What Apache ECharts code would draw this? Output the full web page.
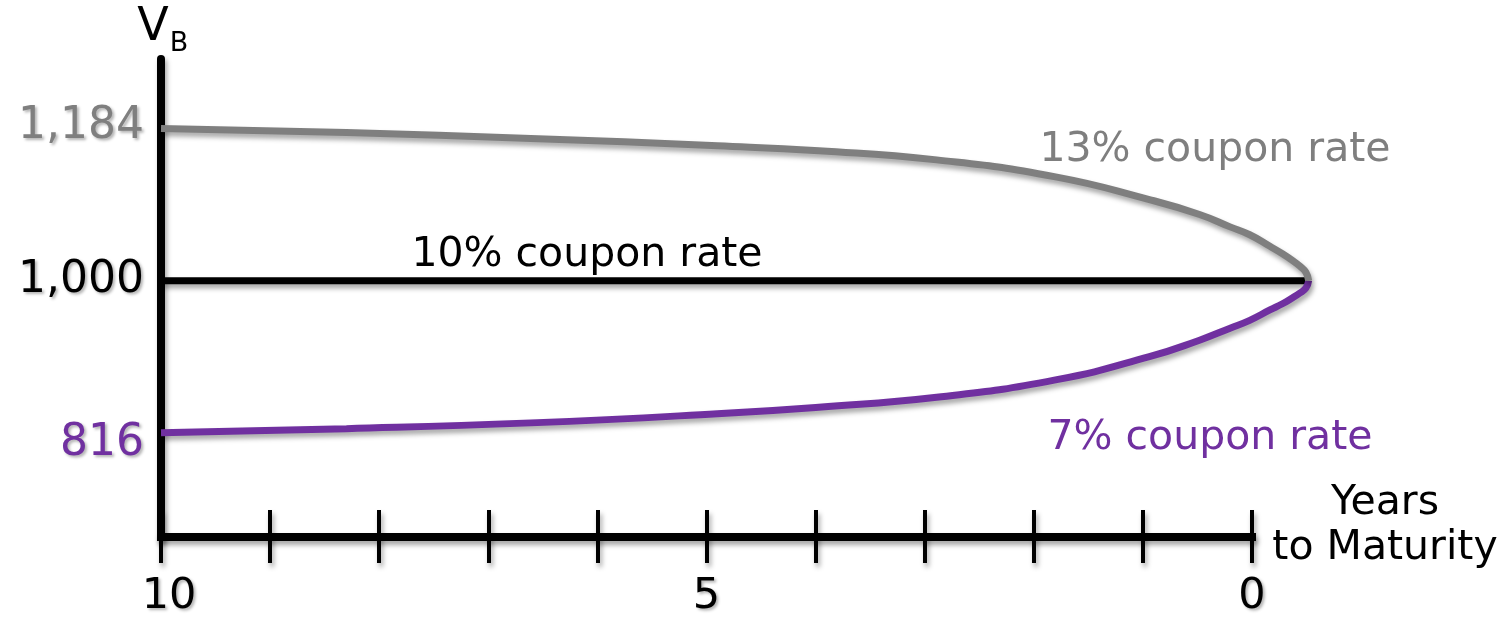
<!DOCTYPE html>
<html>
<head>
<meta charset="utf-8">
<script src="https://cdn.jsdelivr.net/npm/echarts@6/dist/echarts.min.js"></script>
<style>html,body{margin:0;padding:0;background:#fff}#c{width:1504px;height:618px}</style>
</head>
<body>
<div id="c"></div>
<script>
// ---- data ----
const years     = [10, 8.3, 6.61, 4.9, 3.97, 2.89, 1.8, 0.94, 0.48, 0.20, 0.02, -0.165, -0.28, -0.37, -0.44, -0.495, -0.52];
const coupon13  = [1184, 1179, 1172, 1163, 1157, 1146, 1125.5, 1098, 1080, 1065, 1055.5, 1041.5, 1032.5, 1024.5, 1017.5, 1010, 1000];
const coupon7   = [816, 821, 828, 839, 847, 859, 880, 908, 928, 942.5, 952, 964.5, 972, 979, 985, 991, 1000];
const coupon10Years = [10, -0.5];
const coupon10  = [1000, 1000];
const yTickValues = [816, 1000, 1184];
const yTickLabels = ['816', '1,000', '1,184'];
const xTickValues = [10, 5, 0];
const xTickLabels = ['10', '5', '0'];
const seriesNames = ['13% coupon rate', '10% coupon rate', '7% coupon rate'];
const yAxisTitle = ['V', 'B'];
const xAxisTitle = 'Years\nto Maturity';

// ---- styling ----
const FONT = '"DejaVu Sans", Verdana, sans-serif';
const GRAY = '#7F7F7F', PURPLE = '#7030A0', BLACK = '#000000';
const shadow = {shadowColor: 'rgba(0,0,0,0.35)', shadowBlur: 5, shadowOffsetX: 2, shadowOffsetY: 4};
const tShadow = {textShadowColor: 'rgba(0,0,0,0.3)', textShadowBlur: 3, textShadowOffsetX: 2, textShadowOffsetY: 2};
const yLabelKeys = ['p', 'k', 'g'];
const xLabelKeys = ['a', 'm', 'm'];

const chart = echarts.init(document.getElementById('c'), null, {renderer: 'canvas'});
const pairs = (xs, ys) => xs.map((x, i) => [x, ys[i]]);

chart.setOption({
  animation: false,
  backgroundColor: '#ffffff',
  grid: [
    {left: 161, right: 252, top: 59, bottom: 81},
    {left: 161, right: 143, top: 59, bottom: 81}
  ],
  xAxis: [
    {
      gridIndex: 0, type: 'value', min: 0, max: 10, interval: 1, inverse: true,
      splitLine: {show: false},
      axisLine: {show: true, onZero: false, lineStyle: Object.assign({color: BLACK, width: 8, cap: 'square'}, shadow)},
      axisTick: {show: true, length: 26, lineStyle: Object.assign({color: BLACK, width: 4}, shadow)},
      axisLabel: {
        show: true, margin: 38,
        formatter: v => { const i = xTickValues.indexOf(v); return i >= 0 ? '{' + xLabelKeys[i] + '|' + xTickLabels[i] + '}' : ''; },
        rich: {
          a: Object.assign({fontSize: 43, fontFamily: FONT, color: BLACK, padding: [0, 0, 0, 16]}, tShadow),
          m: Object.assign({fontSize: 43, fontFamily: FONT, color: BLACK}, tShadow)
        }
      }
    },
    {
      gridIndex: 0, type: 'value', min: 0, max: 10, interval: 1, inverse: true, position: 'bottom',
      splitLine: {show: false},
      axisLine: {show: false, onZero: false},
      axisTick: {show: true, inside: true, length: 27, lineStyle: Object.assign({color: BLACK, width: 4}, shadow)},
      axisLabel: {show: false}
    },
    {gridIndex: 1, type: 'value', min: -1, max: 10, inverse: true, show: false}
  ],
  yAxis: [
    {
      gridIndex: 0, type: 'value', min: 690, max: 1268, position: 'left',
      splitLine: {show: false},
      axisLine: {show: true, onZero: false, lineStyle: Object.assign({color: BLACK, width: 8}, shadow)},
      axisTick: {show: false},
      axisLabel: {
        show: true, margin: 17, customValues: yTickValues,
        formatter: v => { const i = yTickValues.indexOf(v); return i >= 0 ? '{' + yLabelKeys[i] + '|' + yTickLabels[i] + '}' : ''; },
        rich: {
          g: Object.assign({color: GRAY, fontSize: 44, fontFamily: FONT, padding: [0, 0, 3, 0]}, tShadow),
          k: Object.assign({color: BLACK, fontSize: 44, fontFamily: FONT}, tShadow),
          p: Object.assign({color: PURPLE, fontSize: 44, fontFamily: FONT, padding: [22, 0, 0, 0]}, tShadow)
        }
      }
    },
    {gridIndex: 1, type: 'value', min: 690, max: 1268, show: false}
  ],
  series: [
    {
      name: seriesNames[1], type: 'line', xAxisIndex: 2, yAxisIndex: 1, z: 2,
      data: pairs(coupon10Years, coupon10), showSymbol: false, symbol: 'none',
      lineStyle: Object.assign({color: BLACK, width: 7}, shadow)
    },
    {
      name: seriesNames[2], type: 'line', xAxisIndex: 2, yAxisIndex: 1, z: 3,
      data: pairs(years, coupon7), showSymbol: false, symbol: 'none',
      smooth: 0.5,
      lineStyle: Object.assign({color: PURPLE, width: 7}, shadow)
    },
    {
      name: seriesNames[0], type: 'line', xAxisIndex: 2, yAxisIndex: 1, z: 4,
      data: pairs(years, coupon13), showSymbol: false, symbol: 'none',
      smooth: 0.5,
      lineStyle: Object.assign({color: GRAY, width: 7}, shadow)
    }
  ],
  graphic: [
    {type: 'text', x: 153, y: 28, style: {text: yAxisTitle[0], fill: BLACK, fontSize: 46, fontFamily: FONT, align: 'center', verticalAlign: 'middle'}},
    {type: 'text', x: 179, y: 44, style: {text: yAxisTitle[1], fill: BLACK, fontSize: 27, fontFamily: FONT, align: 'center', verticalAlign: 'middle'}},
    {type: 'text', x: 1215, y: 150, style: {text: seriesNames[0], fill: GRAY, fontSize: 41, fontFamily: FONT, align: 'center', verticalAlign: 'middle'}},
    {type: 'text', x: 587, y: 255, style: {text: seriesNames[1], fill: BLACK, fontSize: 41, fontFamily: FONT, align: 'center', verticalAlign: 'middle'}},
    {type: 'text', x: 1210, y: 438, style: {text: seriesNames[2], fill: PURPLE, fontSize: 41, fontFamily: FONT, align: 'center', verticalAlign: 'middle'}},
    {type: 'text', x: 1385, y: 526, style: {text: xAxisTitle, fill: BLACK, fontSize: 41, lineHeight: 45, fontFamily: FONT, align: 'center', verticalAlign: 'middle'}}
  ]
});
</script>
</body>
</html>
